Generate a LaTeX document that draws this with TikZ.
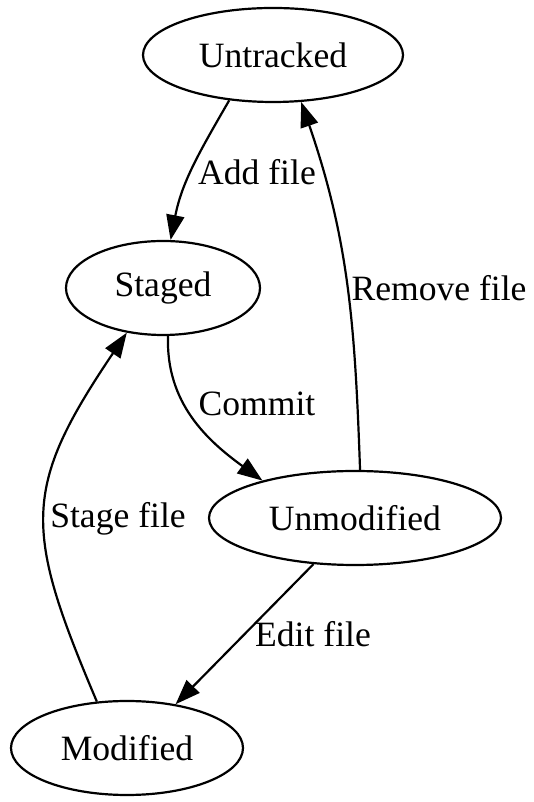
\documentclass[tikz,border=0pt]{standalone}
\usepackage{fontspec}
\setmainfont{Liberation Serif}
\usetikzlibrary{shapes.geometric,arrows.meta}
\tikzset{
    state/.style={ellipse, draw, line width=2.2pt, inner sep=0pt, minimum height=94pt, font=\fontsize{35.6}{40}\selectfont},
    trans/.style={-{Triangle[length=25pt, width=18pt]}, line width=2.2pt},
    lbl/.style={font=\fontsize{35.6}{40}\selectfont},
}

\begin{document}
\begin{tikzpicture}[x=1pt, y=1pt]
    \useasboundingbox (0,0) rectangle (533,802);

    % file states
    \node[state, minimum width=260pt] (untracked) at (273,747) {Untracked};
    \node[state, minimum width=194pt] (staged) at (163,514) {Staged};
    \node[state, minimum width=292pt] (unmodified) at (355,284) {Unmodified};
    \node[state, minimum width=232pt] (modified) at (127,54) {Modified};

    % transitions
    \draw[trans] (untracked.226) to[out=240, in=79] (staged.81);
    \draw[trans] (staged.276) to[out=268, in=144] (unmodified.158);
    \draw[trans] (unmodified.84) to[out=92, in=289] (untracked.301);
    \draw[trans] (unmodified.228) -- (modified.42);
    \draw[trans] (modified.123) to[out=113, in=236, looseness=1.3] (staged.231);

    % transition labels
    \node[lbl] (addlbl) at (257,630) {Add file};
    \node[lbl] (commitlbl) at (257,398) {Commit};
    \node[lbl] (removelbl) at (439,514) {Remove file};
    \node[lbl] (editlbl) at (313,168) {Edit file};
    \node[lbl] (stagelbl) at (118,283) {Stage file};
\end{tikzpicture}
\end{document}
